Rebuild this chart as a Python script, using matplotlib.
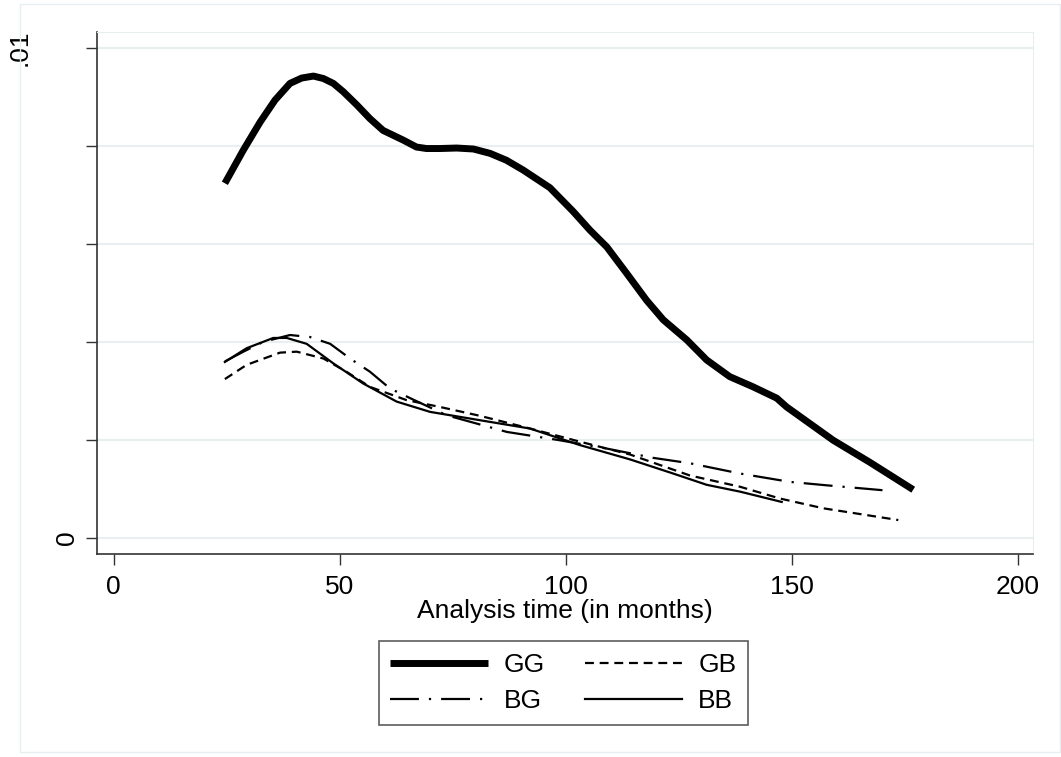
import matplotlib
matplotlib.use("Agg")
import matplotlib.pyplot as plt
from matplotlib.patches import Rectangle
from matplotlib.transforms import ScaledTranslation

plt.rcParams['font.family'] = ['Liberation Sans', 'DejaVu Sans']

# hazard estimates, y in units of 0.001
gg_x = [24.6, 28.7, 32.4, 35.7, 39.0, 41.6, 44.2, 46.4, 48.6, 50.8, 53.8, 56.7, 59.6,
        64.1, 67.0, 69.2, 72.2, 75.9, 79.6, 83.3, 86.9, 90.6, 96.5, 101.7, 105.4,
        109.1, 113.5, 117.9, 121.6, 126.8, 131.2, 136.3, 141.5, 146.7, 148.9,
        159.2, 167.3, 176.9]
gg_y = [7.24, 7.92, 8.49, 8.94, 9.28, 9.39, 9.43, 9.38, 9.28, 9.11, 8.84, 8.56, 8.32,
        8.12, 7.98, 7.95, 7.95, 7.96, 7.94, 7.85, 7.71, 7.51, 7.15, 6.66, 6.28,
        5.94, 5.40, 4.85, 4.45, 4.04, 3.63, 3.29, 3.08, 2.85, 2.67,
        1.99, 1.54, 0.98]

gb_x = [24.6, 29.4, 36.8, 40.5, 46.4, 51.5, 56.7, 64.8, 72.2, 81.0, 92.1, 103.2,
        114.2, 127.5, 138.6, 147.4, 157.0, 173.6]
gb_y = [3.24, 3.53, 3.78, 3.80, 3.66, 3.39, 3.08, 2.81, 2.67, 2.49, 2.23, 1.96,
        1.70, 1.27, 1.04, 0.80, 0.60, 0.36]

bg_x = [24.6, 28.7, 33.1, 39.0, 43.4, 47.9, 52.3, 56.7, 61.1, 65.6, 73.7, 87.0,
        98.7, 109.1, 119.4, 127.5, 138.6, 149.6, 157.7, 170.1]
bg_y = [3.60, 3.80, 4.00, 4.14, 4.10, 3.96, 3.66, 3.39, 3.05, 2.85, 2.50, 2.16,
        1.99, 1.82, 1.63, 1.52, 1.31, 1.14, 1.07, 0.97]

bb_x = [24.6, 29.4, 35.3, 38.3, 42.7, 48.6, 55.2, 62.6, 70.0, 81.0, 92.1, 103.2,
        114.2, 123.8, 131.2, 138.6, 147.8]
bb_y = [3.59, 3.87, 4.08, 4.08, 3.96, 3.56, 3.15, 2.78, 2.57, 2.40, 2.23, 1.89,
        1.60, 1.31, 1.08, 0.94, 0.73]

x_ticks = [0, 50, 100, 150, 200]
y_ticks = [0, 0.002, 0.004, 0.006, 0.008, 0.01]
y_labels = ['0', '', '', '', '', '.01']

fig = plt.figure(figsize=(10.61, 7.57), dpi=100)
fig.patches.append(Rectangle((20 / 1061, 5 / 757), 1040 / 1061, 748 / 757,
                             transform=fig.transFigure, fill=False,
                             edgecolor='#e6eef0', lw=1))
ax = fig.add_axes([0.0914, 0.2682, 0.8822, 0.6895])

def sc(v):
    return [a * 1e-3 for a in v]

l_gg, = ax.plot(gg_x, sc(gg_y), color='black', lw=5, solid_capstyle='butt',
                solid_joinstyle='round')
l_gb, = ax.plot(gb_x, sc(gb_y), color='black', lw=1.6, ls=(0, (4, 2.6)))
l_bg, = ax.plot(bg_x, sc(bg_y), color='black', lw=1.6, ls=(0, (13, 4.5, 1, 4.5)))
l_bb, = ax.plot(bb_x, sc(bb_y), color='black', lw=1.6, solid_joinstyle='round')

ax.set_xlim(-3.7, 203.4)
ax.set_ylim(-0.000333, 0.01033)
ax.set_xticks(x_ticks)
ax.set_yticks(y_ticks)
ax.set_yticklabels(y_labels, rotation=90, va='center')
ax.tick_params(axis='both', direction='out', length=8, width=1, color='#333333',
               labelsize=19)
ax.tick_params(axis='x', pad=7)
ax.tick_params(axis='y', pad=5)
# the top label sits further out, as in the original
top_lab = ax.get_yticklabels()[-1]
top_lab.set_transform(top_lab.get_transform() +
                      ScaledTranslation(-0.47, 0, fig.dpi_scale_trans))

ax.grid(axis='y', color='#e8eff1', lw=1.5)
ax.set_axisbelow(True)
for s in ['top', 'right']:
    ax.spines[s].set_color('#e6eef0')
for s in ['left', 'bottom']:
    ax.spines[s].set_color('#333333')
    ax.spines[s].set_linewidth(1.2)

ax.set_xlabel('Analysis time (in months)', fontsize=19, labelpad=0)

leg = fig.legend([l_gg, l_bg, l_gb, l_bb], ['GG', 'BG', 'GB', 'BB'], ncol=2,
                 loc='center', bbox_to_anchor=(0.531, 0.098),
                 fontsize=19, handlelength=3.7, handletextpad=0.6,
                 columnspacing=1.5, labelspacing=0.45, fancybox=False,
                 edgecolor='#333333', borderpad=0.45)
leg.get_frame().set_linewidth(1.2)

fig.savefig('out.png', dpi=100)
